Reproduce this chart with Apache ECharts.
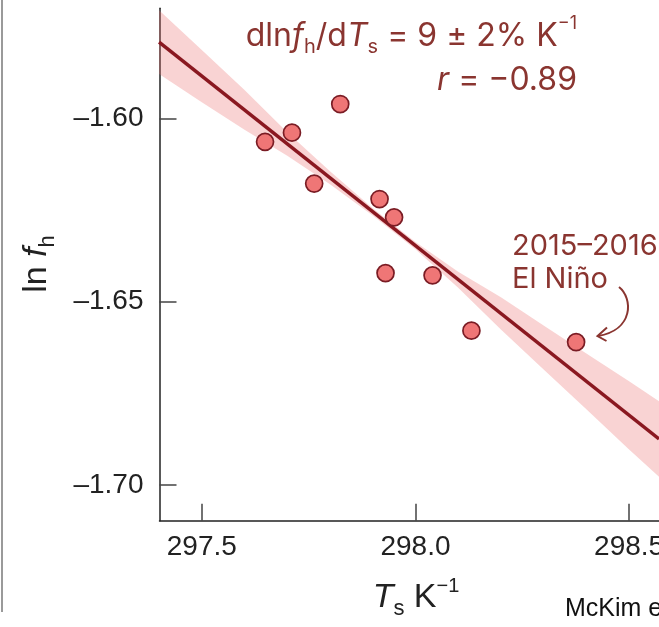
<!DOCTYPE html>
<html>
<head>
<meta charset="utf-8">
<script src="https://cdn.jsdelivr.net/npm/echarts@6/dist/echarts.min.js"></script>
<style>
  html, body { margin: 0; padding: 0; background: #fff; }
  #chart { width: 659px; height: 627px; }
</style>
</head>
<body>
<div id="chart"></div>
<script>
// ---- data ----
const tempK = [297.648, 297.711, 297.824, 297.763, 297.916, 297.950, 297.930, 298.040, 298.131, 298.376];
const lnFh  = [-1.6064, -1.6039, -1.5961, -1.6178, -1.6220, -1.6270, -1.6422, -1.6428, -1.6579, -1.6610];

// regression line end points
const fitT    = [297.40, 298.57];
const fitLnFh = [-1.5792, -1.6874];

// confidence band (estimated)
const bandT    = [297.40, 297.50, 297.60, 297.70, 297.80, 297.90, 298.00, 298.10, 298.20, 298.30, 298.40, 298.50, 298.57];
const bandLow  = [-1.5879, -1.5956, -1.6031, -1.6102, -1.6180, -1.6265, -1.6357, -1.6462, -1.6576, -1.6685, -1.6793, -1.6903, -1.6977];
const bandHigh = [-1.5705, -1.5814, -1.5923, -1.6038, -1.6144, -1.6245, -1.6337, -1.6418, -1.6488, -1.6565, -1.6641, -1.6717, -1.6771];

const xTicks = [297.5, 298.0, 298.5];
const yTicks = [-1.70, -1.65, -1.60];

const xMin = 297.401, xMax = 298.570;
const yMin = -1.7097, yMax = -1.5700;

// ---- chart ----
const RED = '#8a3530';
const LINE_RED = '#8a1820';
const AX_FONT = '"Liberation Sans", Arial, sans-serif';
const ANN_FONT = 'Inter, "Open Sans", sans-serif';

const chart = echarts.init(document.getElementById('chart'), null, { renderer: 'canvas' });

const points = tempK.map((t, i) => [t, lnFh[i]]);
const fitLine = fitT.map((t, i) => [t, fitLnFh[i]]);

function rs(size, lh, va, extra) {
  return Object.assign({ fontSize: size, fontFamily: ANN_FONT, color: RED, fill: RED, lineHeight: lh, verticalAlign: va }, extra || {});
}
function ax(size, lh, va, extra) {
  return Object.assign({ fontSize: size, fontFamily: AX_FONT, color: '#222', fill: '#222', lineHeight: lh, verticalAlign: va }, extra || {});
}

chart.setOption({
  animation: false,
  backgroundColor: '#ffffff',
  grid: { left: 159.5, right: 0, top: 8.3, bottom: 106.3, outerBoundsMode: 'none', containLabel: false },
  xAxis: {
    type: 'value', min: xMin, max: xMax,
    axisLine: { show: true, onZero: false, lineStyle: { color: '#222', width: 1.5 } },
    axisTick: { show: true, inside: true, length: 17, customValues: xTicks, lineStyle: { color: '#444', width: 1.5 } },
    axisLabel: { show: true, customValues: xTicks, formatter: v => v.toFixed(1), fontSize: 28, fontFamily: AX_FONT, color: '#222', margin: 13 },
    splitLine: { show: false }
  },
  yAxis: {
    type: 'value', min: yMin, max: yMax,
    axisLine: { show: true, onZero: false, lineStyle: { color: '#222', width: 1.5 } },
    axisTick: { show: true, inside: true, length: 17, customValues: yTicks, lineStyle: { color: '#444', width: 1.5 } },
    axisLabel: { show: true, customValues: yTicks, formatter: v => '\u2013' + Math.abs(v).toFixed(2), fontSize: 28, fontFamily: AX_FONT, color: '#222', margin: 16 },
    splitLine: { show: false }
  },
  series: [
    {
      type: 'custom', z: 1, clip: true, silent: true,
      data: [[297.9, -1.63]],
      renderItem: function (params, api) {
        const pts = [];
        for (let i = 0; i < bandT.length; i++) pts.push(api.coord([bandT[i], bandHigh[i]]));
        for (let i = bandT.length - 1; i >= 0; i--) pts.push(api.coord([bandT[i], bandLow[i]]));
        return { type: 'polygon', shape: { points: pts }, style: { fill: 'rgba(235,110,110,0.30)' } };
      }
    },
    {
      type: 'line', z: 2, data: fitLine, symbol: 'none',
      lineStyle: { color: LINE_RED, width: 3.5 }
    },
    {
      type: 'scatter', z: 3, data: points, symbol: 'circle', symbolSize: 17,
      itemStyle: { color: '#ef7676', borderColor: '#7a1c24', borderWidth: 1.7, opacity: 1 }
    }
  ],
  graphic: [
    // left frame line
    { type: 'line', shape: { x1: 2, y1: 0, x2: 2, y2: 612 }, style: { stroke: '#9a9a9a', lineWidth: 2 } },
    // slope annotation
    {
      type: 'text', x: 577, y: 15,
      style: {
        text: '{n|dln}{i|f}{sub|h}{n|/d}{i|T}{sub|s}{n| = 9 \u00b1 2% K}{sup|\u22121}',
        align: 'right', verticalAlign: 'top', textAlign: 'right', textVerticalAlign: 'top',
        rich: {
          n: rs(32, 42, 'middle'),
          i: rs(32, 42, 'middle', { fontStyle: 'italic' }),
          sub: rs(20, 16, 'bottom'),
          sup: rs(18, 26, 'top')
        }
      }
    },
    {
      type: 'text', x: 577, y: 59,
      style: {
        text: '{i|r}{n| = \u22120.89}',
        align: 'right', verticalAlign: 'top', textAlign: 'right', textVerticalAlign: 'top',
        rich: {
          n: rs(32, 42, 'middle'),
          i: rs(32, 42, 'middle', { fontStyle: 'italic' })
        }
      }
    },
    // El Nino annotation
    {
      type: 'text', x: 512, y: 230,
      style: {
        text: '2015\u20132016\nEl Ni\u00f1o',
        fontSize: 29, fontFamily: ANN_FONT, fill: RED, lineHeight: 33,
        align: 'left', verticalAlign: 'top', textAlign: 'left', textVerticalAlign: 'top'
      }
    },
    { type: 'bezierCurve', shape: { x1: 619, y1: 287, cpx1: 633, cpy1: 298, cpx2: 634, cpy2: 330, x2: 598, y2: 336 },
      style: { stroke: RED, lineWidth: 2, fill: null } },
    { type: 'polyline', shape: { points: [[607, 327.5], [597.5, 336], [606.5, 341]] },
      style: { stroke: RED, lineWidth: 2, fill: null } },
    // y axis name
    {
      type: 'text', x: 37, y: 264, rotation: Math.PI / 2,
      style: {
        text: '{n|ln }{i|f}{sub|h}',
        align: 'center', verticalAlign: 'middle', textAlign: 'center', textVerticalAlign: 'middle',
        rich: {
          n: ax(34, 44, 'middle'),
          i: ax(34, 44, 'middle', { fontStyle: 'italic' }),
          sub: ax(22, 20, 'bottom')
        }
      }
    },
    // x axis name
    {
      type: 'text', x: 416, y: 576,
      style: {
        text: '{i|T}{sub|s}{n| K}{sup|\u22121}',
        align: 'center', verticalAlign: 'top', textAlign: 'center', textVerticalAlign: 'top',
        rich: {
          n: ax(34, 44, 'middle'),
          i: ax(34, 44, 'middle', { fontStyle: 'italic' }),
          sub: ax(22, 20, 'bottom'),
          sup: ax(20, 26, 'top')
        }
      }
    },
    // source credit (cut off at the right edge as in the reference)
    {
      type: 'text', x: 565, y: 622,
      style: {
        text: 'McKim et al.',
        fontSize: 25, fontFamily: AX_FONT, fill: '#111',
        align: 'left', verticalAlign: 'bottom', textAlign: 'left', textVerticalAlign: 'bottom'
      }
    }
  ]
});
</script>
</body>
</html>
